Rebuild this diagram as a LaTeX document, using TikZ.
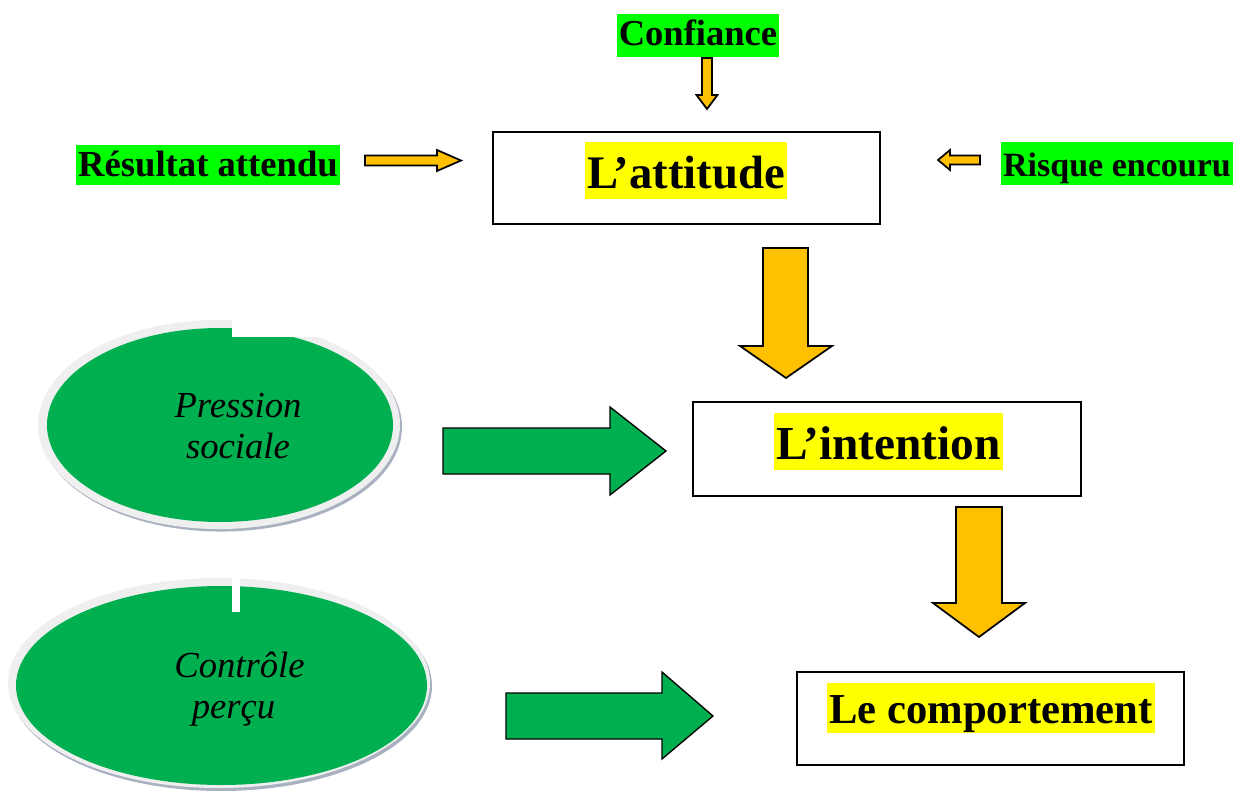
\documentclass[tikz,border=0pt]{standalone}
\usepackage{fontspec}
\setmainfont{Liberation Serif}
\usetikzlibrary{shapes.geometric}
\definecolor{hlgreen}{HTML}{00FF00}
\definecolor{hlyellow}{HTML}{FFFF00}
\definecolor{arrorange}{HTML}{FFC000}
\definecolor{ovgreen}{HTML}{00B050}
\definecolor{rimgray}{HTML}{EFEFEF}
\definecolor{shadowgray}{HTML}{A9B1C0}
\begin{document}
\begin{tikzpicture}[x=0.75pt,y=-0.75pt,
  box/.style={draw=black, line width=1.3pt, inner sep=0pt},
  hly/.style={fill=hlyellow, inner xsep=1.5pt, inner ysep=0pt, anchor=base},
  hlg/.style={fill=hlgreen, inner xsep=1.5pt, inner ysep=0pt, anchor=base},
  oarrow/.style={draw=black, line width=1.3pt, fill=arrorange, line join=miter},
  garrow/.style={draw=black, line width=1pt, fill=ovgreen, line join=miter},
  ovtext/.style={anchor=base, inner sep=0pt, font=\itshape\fontsize{27.5}{31}\selectfont}
]
\useasboundingbox (0,0) rectangle (1233,792);

% ---- top labels
\node[hlg, text height=24pt, text depth=8.25pt, font=\bfseries\fontsize{27.4}{30}\selectfont] (conf) at (698,46) {Confiance};
\node[hlg, text height=23.25pt, text depth=6.75pt, font=\bfseries\fontsize{27.5}{30}\selectfont] (res) at (208,176) {Résultat attendu};
\node[hlg, text height=25.5pt, text depth=6.75pt, font=\bfseries\fontsize{25.5}{30}\selectfont] (risk) at (1117,176) {Risque encouru};

% ---- boxes
\node[box, minimum width=290.25pt, minimum height=69pt] (att) at (686.5,178) {};
\node[hly, text height=34.5pt, text depth=8.25pt, font=\bfseries\fontsize{35}{40}\selectfont] (attT) at (686,188) {L’attitude};
\node[box, minimum width=291pt, minimum height=70.5pt] (int) at (887,449) {};
\node[hly, text height=34.5pt, text depth=8.25pt, font=\bfseries\fontsize{35.5}{40}\selectfont] (intT) at (888.5,459) {L’intention};
\node[box, minimum width=290.25pt, minimum height=69.75pt] (comp) at (990.5,718.5) {};
\node[hly, text height=30pt, text depth=7.5pt, font=\bfseries\fontsize{32}{36}\selectfont] (compT) at (991,723) {Le comportement};

% ---- small orange arrows
\draw[oarrow] (365,155.5)--(437,155.5)--(437,150)--(461,160.5)--(437,171)--(437,165.5)--(365,165.5)--cycle;
\draw[oarrow] (980,155.5)--(950,155.5)--(950,150)--(938,160)--(950,170)--(950,164.5)--(980,164.5)--cycle;
\draw[oarrow] (702,58)--(712,58)--(712,95)--(717.5,95)--(707,109)--(696.5,95)--(702,95)--cycle;

% ---- big orange arrows
\draw[oarrow] (763,248)--(808,248)--(808,346)--(832,346)--(786,378)--(740,346)--(763,346)--cycle;
\draw[oarrow] (956,507)--(1002,507)--(1002,603)--(1025,603)--(979,637)--(933,603)--(956,603)--cycle;

% ---- green arrows
\draw[garrow] (443,428)--(610,428)--(610,407)--(666,451)--(610,495)--(610,474)--(443,474)--cycle;
\draw[garrow] (506,693)--(662,693)--(662,672)--(713,716)--(662,759)--(662,739)--(506,739)--cycle;

% ---- ellipse 1
\fill[shadowgray] (221,427) ellipse [x radius=135.75pt, y radius=78.4pt];
\fill[rimgray] (219,424.5) ellipse [x radius=135.75pt, y radius=78.4pt];
\node[ellipse, fill=ovgreen, inner sep=0pt, minimum width=259.5pt, minimum height=145.5pt] (ell1) at (220,425) {};
\fill[white] (232,310) rectangle (322,337);
\node[ovtext] (ps1) at (238,417) {Pression};
\node[ovtext] (ps2) at (238,458) {sociale};

% ---- ellipse 2
\fill[shadowgray] (221,686) ellipse [x radius=158.25pt, y radius=78.75pt];
\fill[rimgray] (219,683) ellipse [x radius=158.25pt, y radius=78.75pt];
\node[ellipse, fill=ovgreen, inner sep=0pt, minimum width=308.25pt, minimum height=149.25pt] (ell2) at (221.5,685.5) {};
\fill[white] (232,574) rectangle (240,612);
\node[ovtext] (cp1) at (239.5,677) {Contrôle};
\node[ovtext] (cp2) at (233.5,718) {perçu};
\end{tikzpicture}
\end{document}
